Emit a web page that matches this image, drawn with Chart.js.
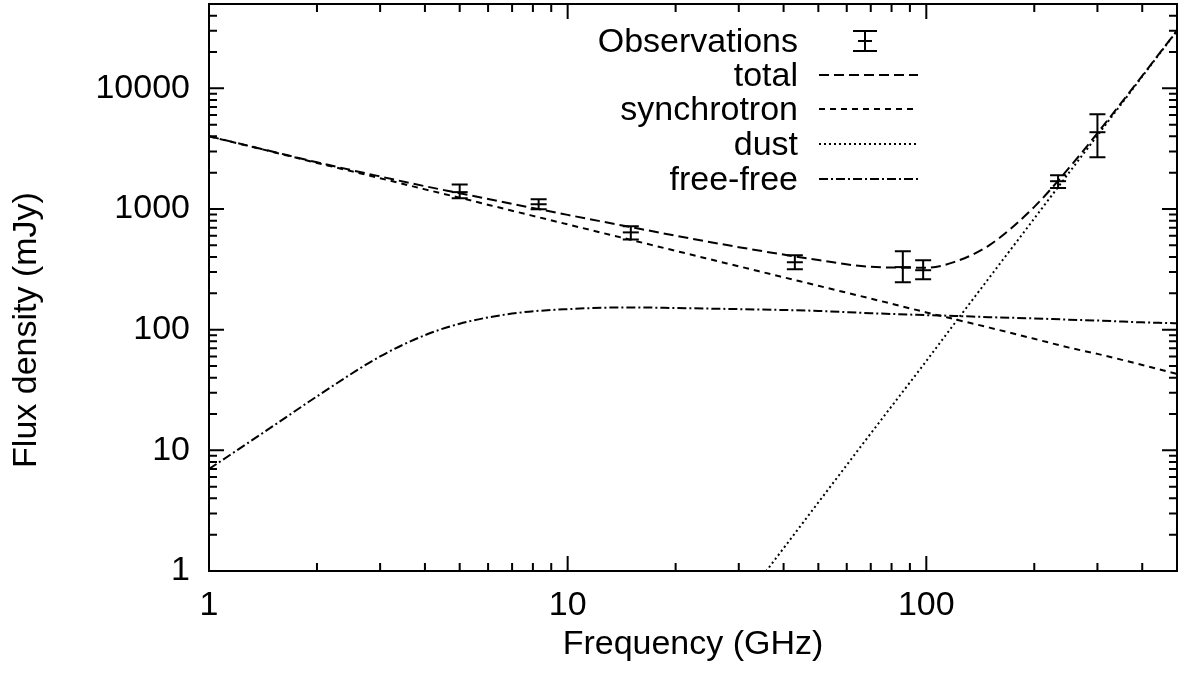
<!DOCTYPE html>
<html>
<head>
<meta charset="utf-8">
<script src="https://cdn.jsdelivr.net/npm/chart.js@4"></script>
<style>
  body { margin: 0; background: #fff; }
  #wrap { width: 1178px; height: 681px; }
</style>
</head>
<body>
<div id="wrap"><canvas id="sedChart" width="1178" height="681"></canvas></div>
<script>
// Model curves (GHz -> mJy)
const freq = [1, 1.5, 2, 3, 4, 5, 7, 10, 15, 20, 30, 50, 70, 100, 120, 150, 200, 250, 300, 400, 500];
const total = [4007, 2996, 2438, 1860, 1545, 1352, 1104, 894, 708, 601, 483, 378, 332, 326, 365, 502, 1042, 2188, 4252, 12706, 30156];
const synchrotron = [4000, 2980, 2410, 1800, 1455, 1240, 968, 746, 555, 450, 335, 231, 181, 139, 122, 104, 84, 71, 63, 51, 43];
const freeFree = [7, 15.7, 28, 60, 90, 112, 136, 148, 153, 151, 148, 143, 137, 132, 130, 127, 124, 121, 119, 115, 113];
const dustFreq = [30, 50, 70, 100, 120, 150, 200, 250, 300, 400, 500];
const dust = [0.5, 3.7, 13.8, 55, 113, 271, 834, 2000, 4070, 12540, 30000];

// Observations with error bars
const obsFreq = [5.0, 8.3, 15, 43, 86, 98, 233, 300];
const obsFlux = [1380, 1095, 640, 362, 330, 311, 1700, 4330];
const obsLow = [1230, 995, 560, 317, 247, 262, 1490, 2680];
const obsHigh = [1600, 1205, 720, 414, 447, 376, 1900, 6090];

const xTickLabels = [1, 10, 100];
const yTickLabels = [1, 10, 100, 1000, 10000];

const FONT = '"Liberation Sans", Arial, sans-serif';
const pts = (xs, ys) => xs.map((x, i) => ({ x: x, y: ys[i] }));

const curveStyle = {
    borderColor: '#000',
    borderWidth: 2,
    pointRadius: 0,
    fill: false,
    cubicInterpolationMode: 'monotone'
};

// no extra room for tick labels, the plot fills the frame
function noPad(s) {
    s.paddingTop = 0;
    s.paddingBottom = 0;
    s.paddingLeft = 0;
    s.paddingRight = 0;
}

// Error bars drawn through the scales
const errorBars = {
    id: 'errorBars',
    afterDatasetsDraw(chart) {
        const { ctx, scales: { x, y } } = chart;
        ctx.save();
        ctx.strokeStyle = '#000';
        ctx.lineWidth = 2;
        obsFreq.forEach((f, i) => {
            const px = x.getPixelForValue(f);
            const top = y.getPixelForValue(obsHigh[i]);
            const bot = y.getPixelForValue(obsLow[i]);
            ctx.beginPath();
            ctx.moveTo(px, top); ctx.lineTo(px, bot);
            ctx.moveTo(px - 8, top); ctx.lineTo(px + 8, top);
            ctx.moveTo(px - 8, bot); ctx.lineTo(px + 8, bot);
            ctx.stroke();
        });
        ctx.restore();
    }
};

// Frame, inward ticks, legend and y title in gnuplot style
const frame = {
    id: 'frame',
    afterDraw(chart) {
        const { ctx, chartArea: a, scales: { x, y } } = chart;
        ctx.save();
        ctx.strokeStyle = '#000';
        ctx.lineWidth = 2;
        ctx.strokeRect(a.left, a.top, a.right - a.left, a.bottom - a.top);

        ctx.beginPath();
        for (let e = 0; e <= 2; e++) {
            for (let d = 1; d <= 9; d++) {
                const v = d * Math.pow(10, e);
                if (v > 500) continue;
                const px = x.getPixelForValue(v);
                const len = d === 1 ? 15 : 8;
                ctx.moveTo(px, a.bottom); ctx.lineTo(px, a.bottom - len);
                ctx.moveTo(px, a.top); ctx.lineTo(px, a.top + len);
            }
        }
        for (let e = 0; e <= 4; e++) {
            for (let d = 1; d <= 9; d++) {
                const v = d * Math.pow(10, e);
                if (v > 50000) continue;
                const py = y.getPixelForValue(v);
                const len = d === 1 ? 15 : 8;
                ctx.moveTo(a.left, py); ctx.lineTo(a.left + len, py);
                ctx.moveTo(a.right, py); ctx.lineTo(a.right - len, py);
            }
        }
        ctx.stroke();

        // legend
        ctx.fillStyle = '#000';
        ctx.font = '34px ' + FONT;
        ctx.textAlign = 'right';
        ctx.textBaseline = 'middle';
        const rows = [
            ['Observations', null, 41],
            ['total', [10, 5], 75],
            ['synchrotron', [6, 5], 109],
            ['dust', [2, 3], 144],
            ['free-free', [9, 3, 2, 3], 179]
        ];
        rows.forEach(([label, dash, ry]) => {
            ctx.fillText(label, 798, ry + 2);
            ctx.beginPath();
            if (dash) {
                ctx.setLineDash(dash);
                ctx.moveTo(819, ry); ctx.lineTo(918, ry);
            } else {
                ctx.setLineDash([]);
                ctx.moveTo(865, ry - 10); ctx.lineTo(865, ry + 10);
                ctx.moveTo(853, ry - 10); ctx.lineTo(877, ry - 10);
                ctx.moveTo(853, ry + 10); ctx.lineTo(877, ry + 10);
                ctx.moveTo(858, ry); ctx.lineTo(872, ry);
            }
            ctx.stroke();
        });
        ctx.setLineDash([]);

        // y axis title
        ctx.translate(27, 330);
        ctx.rotate(-Math.PI / 2);
        ctx.textAlign = 'center';
        ctx.fillText('Flux density (mJy)', 0, 0);
        ctx.restore();
    }
};

new Chart(document.getElementById('sedChart'), {
    type: 'line',
    data: {
        datasets: [
            { label: 'total', data: pts(freq, total), borderDash: [10, 5], ...curveStyle },
            { label: 'synchrotron', data: pts(freq, synchrotron), borderDash: [6, 5], ...curveStyle },
            { label: 'dust', data: pts(dustFreq, dust), borderDash: [2, 3], ...curveStyle },
            { label: 'free-free', data: pts(freq, freeFree), borderDash: [9, 3, 2, 3], ...curveStyle },
            {
                label: 'Observations',
                data: pts(obsFreq, obsFlux),
                showLine: false,
                pointStyle: 'line',
                pointRadius: 8,
                pointBorderWidth: 2,
                pointBorderColor: '#000',
                pointBackgroundColor: '#000'
            }
        ]
    },
    options: {
        responsive: false,
        animation: false,
        layout: { autoPadding: false, padding: { top: 4, right: 1, left: 0, bottom: 0 } },
        plugins: {
            legend: { display: false },
            tooltip: { enabled: false }
        },
        scales: {
            x: {
                type: 'logarithmic',
                min: 1,
                max: 500,
                afterFit: s => { s.height = 110; noPad(s); },
                afterBuildTicks: s => { s.ticks = xTickLabels.map(v => ({ value: v })); },
                grid: { display: false, drawTicks: false },
                border: { display: false },
                ticks: {
                    autoSkip: false,
                    maxRotation: 0,
                    padding: 14,
                    color: '#000',
                    font: { family: FONT, size: 34 },
                    callback: v => String(v)
                },
                title: {
                    display: true,
                    text: 'Frequency (GHz)',
                    color: '#000',
                    font: { family: FONT, size: 34 },
                    padding: { top: 0, bottom: 16 }
                }
            },
            y: {
                type: 'logarithmic',
                min: 1,
                max: 50000,
                afterFit: s => { s.width = 209; noPad(s); },
                afterBuildTicks: s => { s.ticks = yTickLabels.map(v => ({ value: v })); },
                grid: { display: false, drawTicks: false },
                border: { display: false },
                ticks: {
                    autoSkip: false,
                    padding: 19,
                    color: '#000',
                    font: { family: FONT, size: 34 },
                    callback: v => String(v)
                }
            }
        }
    },
    plugins: [errorBars, frame]
});
</script>
</body>
</html>
